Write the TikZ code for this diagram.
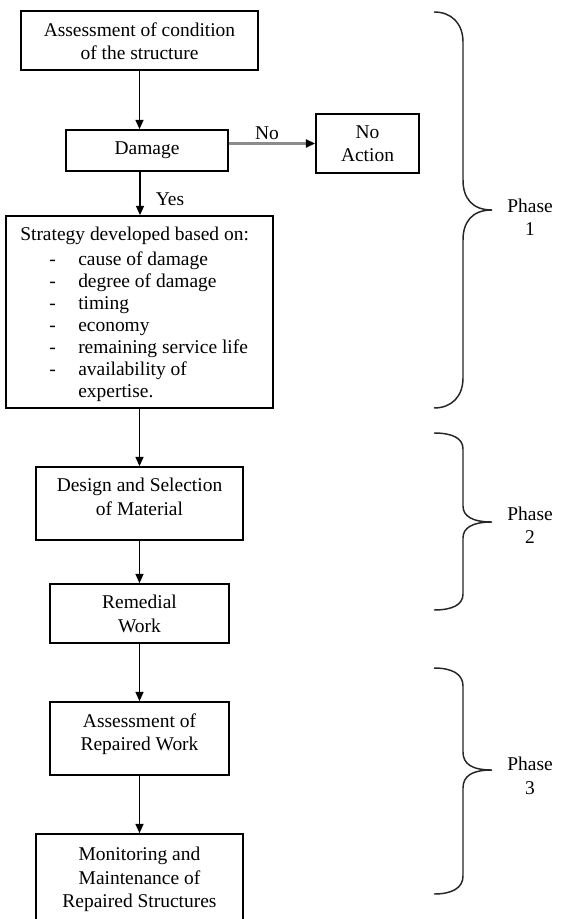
\documentclass[tikz,border=0pt]{standalone}
\usepackage{fontspec}
\setmainfont{Liberation Serif}
\usetikzlibrary{arrows.meta}
\begin{document}
\begin{tikzpicture}[x=0.75pt,y=-0.75pt,
  box/.style={draw=black, line width=1.25pt, inner sep=0pt, fill=white},
  bx/.style n args={2}{minimum width={#1*0.75pt}, minimum height={#2*0.75pt}},
  fnt/.style={font=\fontsize{14.6pt}{17.6pt}\selectfont},
  txt/.style={fnt, align=center, inner sep=0pt, anchor=north},
  arr/.style={line width=1.2pt, -{Triangle[length=7pt,width=6pt]}},
  brace/.style={line width=1.1pt, draw=black!85},
  lbl/.style={fnt, inner sep=0pt}]
\useasboundingbox (0,0) rectangle (563,919);
\fill[white] (0,0) rectangle (563,919);

% boxes
\node[box, bx={237}{59}] (b1) at (139.5,40.5) {};
\node[txt] (b1t) at ([yshift=-9pt]b1.north) {Assessment of condition\\of the structure};

\node[box, bx={162}{41}, fnt] (dmg) at (147,150.5) {Damage};

\node[box, bx={103}{59}] (na) at (367.5,143.5) {};
\node[txt] (nat) at ([yshift=-9pt]na.north) {No\\Action};

\node[box, bx={267}{192}] (st) at (139.5,312) {};
\node[fnt, align=left, inner sep=0pt, anchor=north west,
  font=\fontsize{14.6pt}{16.5pt}\selectfont] (stt) at (20,226.8)
  {Strategy developed based on:\\[2.25pt]
   \makebox[43.5pt][l]{\hspace{21.75pt}-}cause of damage\\
   \makebox[43.5pt][l]{\hspace{21.75pt}-}degree of damage\\
   \makebox[43.5pt][l]{\hspace{21.75pt}-}timing\\
   \makebox[43.5pt][l]{\hspace{21.75pt}-}economy\\
   \makebox[43.5pt][l]{\hspace{21.75pt}-}remaining service life\\
   \makebox[43.5pt][l]{\hspace{21.75pt}-}availability of\\
   \makebox[43.5pt][l]{}expertise.};

\node[box, bx={207}{73}] (ds) at (139.5,503.5) {};
\node[txt] (dst) at ([yshift=-9pt]ds.north) {Design and Selection\\of Material};

\node[box, bx={179}{59}] (rw) at (139.5,613.5) {};
\node[txt] (rwt) at ([yshift=-9pt]rw.north) {Remedial\\Work};

\node[box, bx={179}{73}] (ar) at (139.5,738.5) {};
\node[txt] (art) at ([yshift=-9pt]ar.north) {Assessment of\\Repaired Work};

\node[box, bx={207}{92}] (mm) at (139.5,880) {};
\node[txt] (mmt) at ([yshift=-10.5pt]mm.north) {Monitoring and\\Maintenance of\\Repaired Structures};

% connectors
\coordinate (ax) at (140,0);
\draw[arr] (b1.south) -- (b1.south |- dmg.north);
\draw[arr] (ax |- dmg.south) -- (ax |- st.north);
\draw[arr] (st.south) -- (ds.north);
\draw[arr] (ds.south) -- (rw.north);
\draw[arr] (rw.south) -- (ar.north);
\draw[arr] (ar.south) -- (mm.north);
\draw[line width=1.6pt, draw=black!45, -{Triangle[length=7pt,width=6pt,color=black]}]
  (dmg.east |- na.west) -- (na.west);

\node[lbl] (nol) at (267,133) {No};
\node[lbl] (yesl) at (170,199) {Yes};

% braces
\draw[brace] (434,12) .. controls (452,12) and (463,24) .. (463,42) -- (463,180)
  .. controls (463,198) and (472,210) .. (492,210)
  .. controls (472,210) and (463,222) .. (463,240) -- (463,378)
  .. controls (463,396) and (452,408) .. (434,408);
\draw[brace] (434,433) .. controls (452,433) and (463,438) .. (463,449) -- (463,506)
  .. controls (463,516) and (472,522) .. (492,522)
  .. controls (472,522) and (463,528) .. (463,538) -- (463,594)
  .. controls (463,605) and (452,610) .. (434,610);
\draw[brace] (434,668) .. controls (452,668) and (463,674) .. (463,686) -- (463,752)
  .. controls (463,764) and (472,770) .. (492,770)
  .. controls (472,770) and (463,776) .. (463,788) -- (463,876)
  .. controls (463,888) and (452,894) .. (434,894);

\node[lbl, align=center] (p1) at (530,217) {Phase\\1};
\node[lbl, align=center] (p2) at (530,525.5) {Phase\\2};
\node[lbl, align=center] (p3) at (530,776) {Phase\\3};
\end{tikzpicture}
\end{document}
